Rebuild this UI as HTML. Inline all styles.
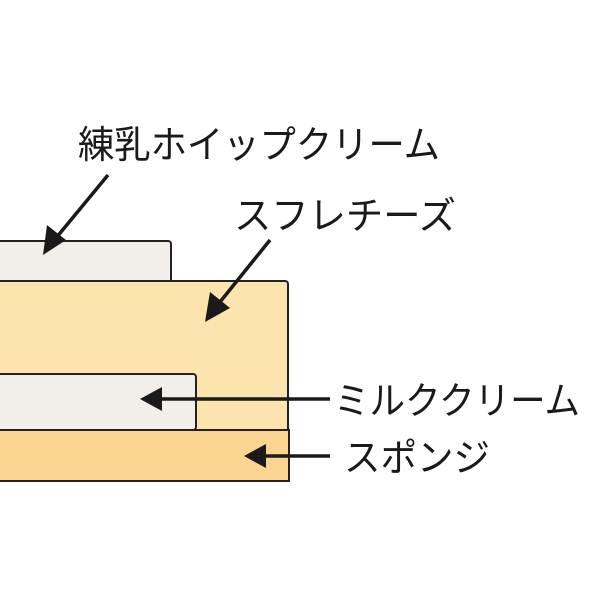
<!DOCTYPE html>
<html><head><meta charset="utf-8"><style>html,body{margin:0;padding:0;background:#fff}svg{display:block}</style></head>
<body>
<svg width="600" height="600" viewBox="0 0 600 600" xmlns="http://www.w3.org/2000/svg">
<rect x="-5" y="241" width="176" height="45" rx="3" fill="#f2eeea" stroke="#222" stroke-width="2"/>
<rect x="-5" y="281" width="293" height="152" rx="3" fill="#fde3ae" stroke="#222" stroke-width="2"/>
<rect x="-5" y="374" width="201" height="56" rx="3" fill="#f2eeea" stroke="#222" stroke-width="2"/>
<rect x="-5" y="430" width="294" height="51" fill="#fcd491" stroke="#222" stroke-width="2"/>
<g stroke="#1a1a1a" stroke-width="3.5" fill="#1a1a1a">
<line x1="108" y1="175" x2="56" y2="238"/>
<polygon points="43,255 47,225 66,240" stroke="none"/>
<line x1="270" y1="240" x2="220" y2="302"/>
<polygon points="205,322 210,292 230,308" stroke="none"/>
<line x1="330" y1="399" x2="160" y2="399"/>
<polygon points="140,399 162,387 162,411" stroke="none"/>
<line x1="330" y1="456" x2="264" y2="456"/>
<polygon points="244,456 266,444 266,468" stroke="none"/>
</g>
<g font-family="'Liberation Sans','Noto Sans CJK JP',sans-serif" font-size="38" fill="#1a1a1a">
<text x="78" y="158" textLength="362" lengthAdjust="spacingAndGlyphs">練乳ホイップクリーム</text>
<text x="234" y="229" textLength="222" lengthAdjust="spacingAndGlyphs">スフレチーズ</text>
<text x="334" y="414" textLength="246" lengthAdjust="spacingAndGlyphs">ミルククリーム</text>
<text x="344" y="471" textLength="146" lengthAdjust="spacingAndGlyphs">スポンジ</text>
</g>
</svg>
</body></html>
